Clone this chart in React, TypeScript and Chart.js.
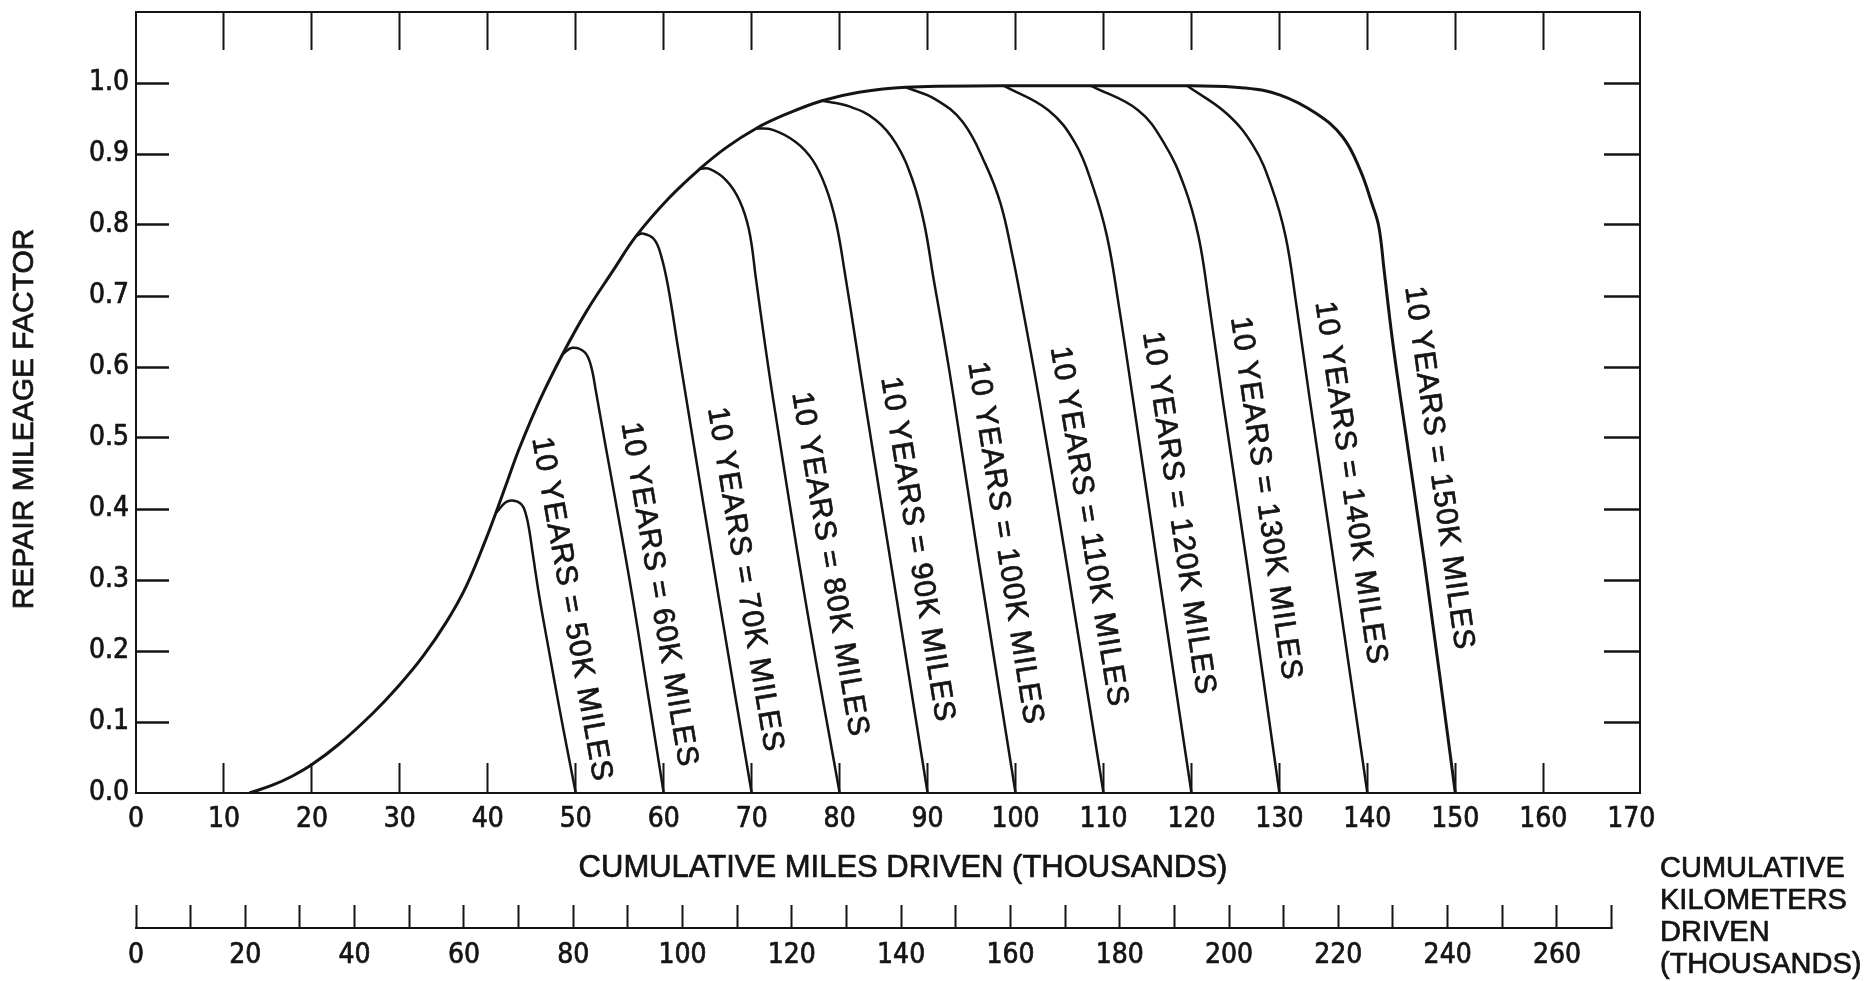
import React, { useEffect, useRef } from 'react';
import { Chart, registerables } from 'chart.js';

Chart.register(...registerables);

const FONT = '"Liberation Sans", Arial, Helvetica, sans-serif';
const NARROW = '"Liberation Sans Narrow", "DejaVu Sans Condensed", "Liberation Sans", Arial, sans-serif';
const INK = '#141414';
const CLEAR = 'rgba(0,0,0,0)';

// Repair mileage factor vs. cumulative miles driven (thousands).
// Envelope curve; its tail is the run-out for 10 years = 150K miles.
const envelope: [number, number][] = [
  [12.9, 0], [15.5, 0.011], [17.8, 0.024], [20.0, 0.04], [23.1, 0.069], [26.9, 0.112],
  [29.8, 0.15], [32.6, 0.192], [35.3, 0.241], [37.5, 0.29], [39.8, 0.358], [40.9, 0.394],
  [42.3, 0.442], [43.6, 0.486], [45.9, 0.553], [48.5, 0.618], [51.2, 0.678], [54.2, 0.735],
  [56.9, 0.785], [60.6, 0.838], [64.1, 0.879], [67.1, 0.909], [70.5, 0.936], [73.9, 0.956],
  [78.0, 0.975], [82.2, 0.987], [87.5, 0.994], [98.1, 0.996], [110.0, 0.996], [120.0, 0.996],
  [126.0, 0.993], [130.1, 0.983], [134.2, 0.957], [137.2, 0.924], [139.2, 0.877], [140.5, 0.831],
  [141.3, 0.798], [141.9, 0.737], [142.8, 0.643], [143.8, 0.554], [146.5, 0.324], [150.0, 0],
];

// Run-out branches, each leaving the envelope and ending at its 10-year mileage.
const runout50K: [number, number][] = [
  [40.9, 0.394], [42.0, 0.409], [42.8, 0.412], [43.8, 0.407], [44.3, 0.394], [44.7, 0.371],
  [45.1, 0.338], [45.85, 0.277], [47.0, 0.197], [48.1, 0.122], [49.1, 0.057], [50.0, 0],
];
const runout60K: [number, number][] = [
  [48.5, 0.618], [49.6, 0.627], [51.0, 0.621], [51.7, 0.603], [52.3, 0.565], [53.4, 0.488],
  [54.5, 0.413], [56.5, 0.272], [58.3, 0.132], [60.0, 0],
];
const runout70K: [number, number][] = [
  [56.9, 0.785], [57.6, 0.788], [58.9, 0.78], [59.7, 0.757], [60.5, 0.713], [61.6, 0.629],
  [62.7, 0.545], [66.3, 0.272], [70.0, 0],
];
const runout80K: [number, number][] = [
  [64.1, 0.879], [65.2, 0.879], [67.1, 0.863], [68.6, 0.835], [69.7, 0.793], [70.5, 0.723],
  [71.55, 0.629], [72.45, 0.554], [76.1, 0.272], [80.0, 0],
];
const runout90K: [number, number][] = [
  [70.5, 0.936], [72.4, 0.934], [75.0, 0.917], [76.9, 0.892], [78.4, 0.854], [79.6, 0.803],
  [80.6, 0.732], [81.8, 0.638], [82.9, 0.55], [86.5, 0.272], [90.0, 0],
];
const runout100K: [number, number][] = [
  [78.0, 0.975], [81.1, 0.967], [84.1, 0.948], [86.4, 0.915], [88.3, 0.863], [89.6, 0.803],
  [90.7, 0.723], [91.8, 0.645], [93.0, 0.554], [95.85, 0.324], [100.0, 0],
];
const runout110K: [number, number][] = [
  [87.5, 0.994], [90.9, 0.977], [94.0, 0.945], [96.6, 0.885], [98.3, 0.83], [99.6, 0.76],
  [100.7, 0.69], [102.7, 0.554], [105.8, 0.324], [110.0, 0],
];
const runout120K: [number, number][] = [
  [98.7, 0.996], [103.7, 0.962], [106.8, 0.915], [108.8, 0.854], [110.4, 0.784], [111.7, 0.69],
  [113.3, 0.559], [116.1, 0.324], [120.0, 0],
];
const runout130K: [number, number][] = [
  [108.6, 0.996], [113.9, 0.962], [116.9, 0.915], [119.2, 0.854], [120.8, 0.784], [122.0, 0.69],
  [123.5, 0.559], [126.3, 0.324], [130.0, 0],
];
const runout140K: [number, number][] = [
  [119.5, 0.996], [124.0, 0.957], [127.1, 0.91], [129.1, 0.854], [130.7, 0.784], [131.9, 0.69],
  [133.4, 0.559], [136.2, 0.324], [140.0, 0],
];

const runouts = [
  runout50K, runout60K, runout70K, runout80K, runout90K,
  runout100K, runout110K, runout120K, runout130K, runout140K,
];
const tenYearMiles = [50, 60, 70, 80, 90, 100, 110, 120, 130, 140, 150];

const milesTitle = 'CUMULATIVE MILES DRIVEN (THOUSANDS)';
const factorTitle = 'REPAIR MILEAGE FACTOR';
const kmTitleLines = ['CUMULATIVE', 'KILOMETERS', 'DRIVEN', '(THOUSANDS)'];

const MILES_MAX = 171;
const MILES_LAST_TICK = 170;
const KM_PER_MILE = 1.609344;
const KM_AXIS_END = 270;
const KM_LABEL_STEP = 20;
const FACTOR_MAX = 1.1;
const TICK_FONT = { family: NARROW, size: 28 };
const TEXT_STROKE = 0.7;

const colorUnless = (hidden: (v: number) => boolean) => (c: any) =>
  c.tick && hidden(c.tick.value) ? CLEAR : INK;
const milesEdge = (v: number) => v <= 0 || v >= MILES_LAST_TICK - 1e-6;
const factorEdge = (v: number) => v <= 0 || v >= FACTOR_MAX - 0.05;

const toPoints = (pts: [number, number][]) => pts.map(([x, y]) => ({ x, y }));

// Fixes an axis box to an exact size and drops the label overhang padding.
const fixSize = (dim: 'width' | 'height', size: number) => (s: any) => {
  s[dim] = size;
  s.paddingTop = 0;
  s.paddingBottom = 0;
  s.paddingLeft = 0;
  s.paddingRight = 0;
};

const inkText = (ctx: CanvasRenderingContext2D, text: string, x: number, y: number) => {
  ctx.fillText(text, x, y);
  ctx.strokeText(text, x, y);
};

// Draws the kilometre base line, the axis titles and the slanted curve labels.
const annotations = {
  id: 'annotations',
  afterDraw(chart: any) {
    const { ctx, chartArea } = chart;
    const sx = chart.scales.x;
    const sy = chart.scales.y;
    const km = chart.scales.km;
    ctx.save();
    ctx.fillStyle = INK;
    ctx.strokeStyle = INK;

    ctx.lineWidth = 2;
    ctx.beginPath();
    ctx.moveTo(km.getPixelForValue(0) - 1, km.top);
    ctx.lineTo(km.getPixelForValue(KM_AXIS_END) + 1, km.top);
    ctx.stroke();

    ctx.lineWidth = TEXT_STROKE;
    ctx.lineJoin = 'round';
    ctx.textBaseline = 'middle';

    ctx.font = `31px ${FONT}`;
    ctx.textAlign = 'center';
    inkText(ctx, milesTitle, (chartArea.left + chartArea.right) / 2 + 15, km.top - 60);

    ctx.font = `30px ${FONT}`;
    ctx.save();
    ctx.translate(25, sy.getPixelForValue(0.527));
    ctx.rotate(-Math.PI / 2);
    inkText(ctx, factorTitle, 0, 0);
    ctx.restore();

    ctx.font = `29px ${FONT}`;
    ctx.textAlign = 'left';
    kmTitleLines.forEach((t, i) => {
      inkText(ctx, t, chartArea.right + 20, km.top - 59 + i * 32);
    });

    ctx.font = `30px ${FONT}`;
    ctx.letterSpacing = '1px';
    tenYearMiles.forEach((m, i) => {
      const pts = i < runouts.length ? runouts[i] : envelope;
      const end = pts[pts.length - 1];
      let peak = 0;
      pts.forEach((p, k) => {
        if (p[1] > pts[peak][1]) peak = k;
      });
      const target = Math.min(0.55, pts[peak][1] - 0.07);
      let ref = pts[peak];
      let best = Infinity;
      for (let k = peak; k < pts.length - 1; k++) {
        const d = Math.abs(pts[k][1] - target);
        if (d < best) {
          best = d;
          ref = pts[k];
        }
      }
      const ex = sx.getPixelForValue(end[0]);
      const ey = sy.getPixelForValue(end[1]);
      const rx = sx.getPixelForValue(ref[0]);
      const ry = sy.getPixelForValue(ref[1]);
      const len = Math.hypot(ex - rx, ey - ry);
      const ux = (ex - rx) / len;
      const uy = (ey - ry) / len;
      const startY = sy.getPixelForValue(0.494 + 0.0214 * i);
      const t = (startY - ey) / (ry - ey);
      const lx = ex + t * (rx - ex);
      const off = 28;
      ctx.save();
      ctx.translate(lx + uy * off, startY - ux * off);
      ctx.rotate(Math.atan2(uy, ux));
      inkText(ctx, `10 YEARS = ${m}K MILES`, 0, 0);
      ctx.restore();
    });
    ctx.restore();
  },
};

export default function App() {
  const ref = useRef<HTMLCanvasElement>(null);

  useEffect(() => {
    const canvas = ref.current;
    if (!canvas) return;
    const curve = (pts: [number, number][], width: number) => ({
      data: toPoints(pts),
      borderColor: INK,
      borderWidth: width,
      pointRadius: 0,
      fill: false,
      tension: 0.4,
    });
    const tickText = {
      autoSkip: false,
      maxRotation: 0,
      minRotation: 0,
      color: INK,
      font: TICK_FONT,
      textStrokeColor: INK,
      textStrokeWidth: TEXT_STROKE,
    };
    const chart = new Chart(canvas, {
      type: 'line',
      data: {
        datasets: [...runouts.map((r) => curve(r, 2.5)), curve(envelope, 3)],
      },
      options: {
        responsive: false,
        animation: false,
        devicePixelRatio: 1,
        layout: { padding: 0 },
        plugins: { legend: { display: false }, tooltip: { enabled: false } },
        scales: {
          x: {
            type: 'linear',
            position: 'bottom',
            min: 0,
            max: MILES_MAX,
            afterFit: fixSize('height', 135),
            border: { display: true, color: INK, width: 2 },
            grid: {
              drawOnChartArea: false,
              tickLength: -30,
              tickWidth: 2,
              color: colorUnless(milesEdge),
              tickColor: colorUnless(milesEdge),
            },
            ticks: {
              ...tickText,
              stepSize: 10,
              includeBounds: false,
              padding: 40,
              callback: (v: any) => String(v),
            },
          },
          km: {
            type: 'linear',
            axis: 'x',
            position: 'bottom',
            min: 0,
            max: MILES_MAX * KM_PER_MILE,
            afterFit: fixSize('height', 53),
            border: { display: false },
            grid: {
              drawOnChartArea: false,
              tickLength: -23,
              tickWidth: 2,
              color: INK,
              tickColor: INK,
            },
            ticks: {
              ...tickText,
              stepSize: 10,
              includeBounds: false,
              padding: 34,
              callback: (v: any) => (Math.round(v) % KM_LABEL_STEP === 0 ? String(Math.round(v)) : ''),
            },
          },
          xTop: {
            type: 'linear',
            axis: 'x',
            position: 'top',
            min: 0,
            max: MILES_MAX,
            afterFit: fixSize('height', 12),
            border: { display: true, color: INK, width: 2 },
            grid: {
              drawOnChartArea: false,
              tickLength: -38,
              tickWidth: 2,
              color: colorUnless(milesEdge),
              tickColor: colorUnless(milesEdge),
            },
            ticks: { display: false, stepSize: 10, includeBounds: false, autoSkip: false },
          },
          y: {
            type: 'linear',
            position: 'left',
            min: 0,
            max: FACTOR_MAX,
            afterFit: fixSize('width', 136),
            border: { display: true, color: INK, width: 2 },
            grid: {
              drawOnChartArea: false,
              tickLength: -33,
              tickWidth: 2.5,
              color: colorUnless(factorEdge),
              tickColor: colorUnless(factorEdge),
            },
            ticks: {
              ...tickText,
              stepSize: 0.1,
              includeBounds: false,
              padding: 40,
              callback: (v: any) => (v > FACTOR_MAX - 0.05 ? '' : Number(v).toFixed(1)),
            },
          },
          yRight: {
            type: 'linear',
            axis: 'y',
            position: 'right',
            min: 0,
            max: FACTOR_MAX,
            afterFit: fixSize('width', 226),
            border: { display: true, color: INK, width: 2 },
            grid: {
              drawOnChartArea: false,
              tickLength: -36,
              tickWidth: 2.5,
              color: colorUnless(factorEdge),
              tickColor: colorUnless(factorEdge),
            },
            ticks: { display: false, stepSize: 0.1, includeBounds: false, autoSkip: false },
          },
        },
      } as any,
      plugins: [annotations],
    } as any);
    return () => chart.destroy();
  }, []);

  return (
    <div style={{ position: 'fixed', left: 0, top: 0, width: 1866, height: 981, background: '#fff' }}>
      <canvas ref={ref} width={1866} height={981} style={{ display: 'block', width: 1866, height: 981 }} />
    </div>
  );
}
